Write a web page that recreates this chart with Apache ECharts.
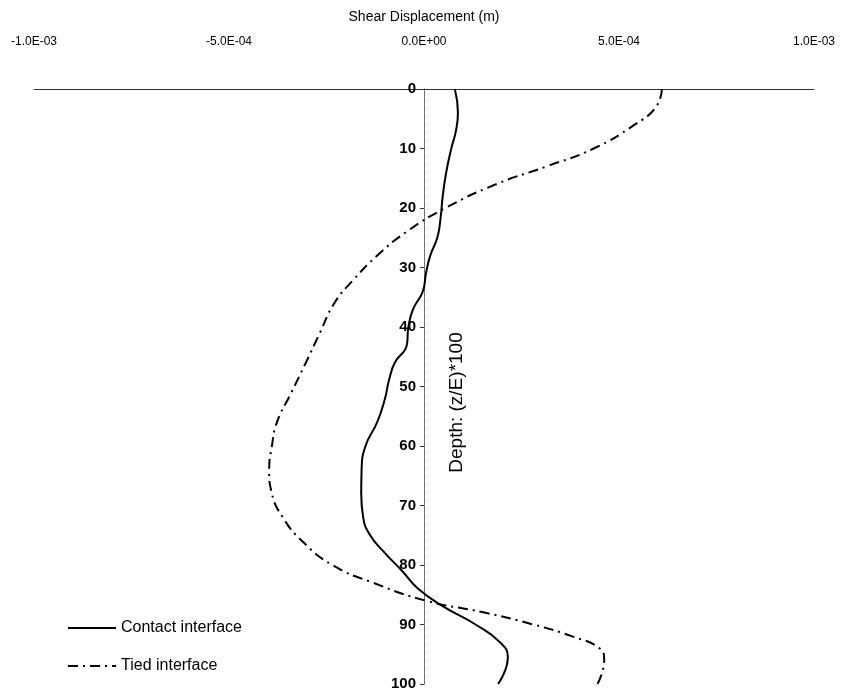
<!DOCTYPE html>
<html>
<head>
    <meta charset="utf-8">
    <title>Shear Displacement</title>
    <script src="https://cdn.jsdelivr.net/npm/echarts@6/dist/echarts.min.js"></script>
    <style>
        * { padding: 0; margin: 0; }
        body { background: #fff; }
    </style>
</head>
<body>
    <div id="main" style="width:845px;height:695px;"></div>
    <script type="text/javascript">
        // depth (z/E)*100 and shear displacement (m)
        var contactDepth = [0, 4, 7, 10, 14, 18, 22, 25, 28, 31, 34, 37, 40, 43, 46, 49, 52, 56, 60, 64, 68, 72, 75, 78, 81, 84, 87, 90, 93, 95.5, 100];
        var contactDisp = [7.9e-5, 8.7e-5, 8.2e-5, 7.0e-5, 5.7e-5, 4.8e-5, 4.2e-5, 3.4e-5, 1.6e-5, 5e-6, -3e-6, -2.8e-5, -4.0e-5, -4.4e-5, -7.5e-5, -9.0e-5, -1.0e-4, -1.2e-4, -1.5e-4, -1.6e-4, -1.61e-4, -1.56e-4, -1.38e-4, -1.0e-4, -5.6e-5, -1.5e-5, 5e-5, 1.32e-4, 1.95e-4, 2.15e-4, 1.9e-4];

        var tiedDepth = [0, 3, 6, 10, 13, 16, 20, 24, 28, 32, 36, 41, 46, 51, 56, 60, 64, 68, 72, 76, 80, 83, 86, 88, 90, 92, 94, 96, 100];
        var tiedDisp = [6.1e-4, 5.95e-4, 5.4e-4, 4.35e-4, 3.15e-4, 1.85e-4, 5.5e-5, -4.5e-5, -1.2e-4, -1.8e-4, -2.3e-4, -2.67e-4, -3.03e-4, -3.4e-4, -3.77e-4, -3.9e-4, -3.97e-4, -3.9e-4, -3.62e-4, -3.12e-4, -2.35e-4, -1.3e-4, 5e-6, 1.55e-4, 2.8e-4, 3.8e-4, 4.5e-4, 4.62e-4, 4.45e-4];

        var seriesNames = ['Contact interface', 'Tied interface'];

        function pairs(xs, ys) {
            var out = [];
            for (var i = 0; i < xs.length; i++) out.push([xs[i], ys[i]]);
            return out;
        }

        // -1.0E-03 style labels
        function sci(v) {
            if (Math.abs(v) < 1e-12) return '0.0E+00';
            var e = Math.floor(Math.log10(Math.abs(v)) + 1e-9);
            var m = v / Math.pow(10, e);
            var es = (e < 0 ? '-' : '+') + (Math.abs(e) < 10 ? '0' : '') + Math.abs(e);
            return m.toFixed(1) + 'E' + es;
        }

        var myChart = echarts.init(document.getElementById('main'));
        var font = 'Liberation Sans, Arial, sans-serif';

        var option = {
            backgroundColor: '#fff',
            animation: false,
            textStyle: { fontFamily: font, color: '#000' },
            grid: { left: 34, right: 31, top: 89, bottom: 11, containLabel: false, outerBoundsMode: 'none' },
            legend: {
                data: seriesNames,
                orient: 'vertical',
                left: 62,
                top: 615,
                itemWidth: 48,
                itemHeight: 10,
                itemGap: 22,
                itemStyle: { opacity: 0 },
                textStyle: { fontFamily: font, fontSize: 16, color: '#000' }
            },
            xAxis: {
                type: 'value',
                position: 'top',
                min: -1e-3,
                max: 1e-3,
                interval: 5e-4,
                name: 'Shear Displacement (m)',
                nameLocation: 'middle',
                nameGap: 65,
                nameTextStyle: { fontFamily: font, fontSize: 14, color: '#000' },
                axisLine: { onZero: false, lineStyle: { color: '#333', width: 1 } },
                axisTick: { show: false },
                splitLine: { show: false },
                axisLabel: {
                    margin: 41,
                    fontSize: 12,
                    color: '#000',
                    formatter: sci
                }
            },
            yAxis: {
                type: 'value',
                position: 'left',
                offset: -390,
                inverse: true,
                min: 0,
                max: 100,
                interval: 10,
                name: 'Depth: (z/E)*100',
                nameLocation: 'middle',
                nameRotate: 90,
                nameGap: -42,
                nameTextStyle: { fontFamily: font, fontSize: 19, color: '#000', padding: [0, 32, 0, 0] },
                axisLine: { show: true, onZero: false, lineStyle: { color: '#555', type: 'dotted', width: 1 } },
                axisTick: { show: true, length: 4, lineStyle: { color: '#333' } },
                splitLine: { show: false },
                axisLabel: { margin: 8, fontSize: 15, fontWeight: 'bold', color: '#000' }
            },
            series: [{
                    name: seriesNames[0],
                    type: 'line',
                    data: pairs(contactDisp, contactDepth),
                    showSymbol: false,
                    symbol: 'none',
                    smooth: true,
                    lineStyle: { color: '#000', width: 2 },
                    itemStyle: { color: '#000' }
                },
                {
                    name: seriesNames[1],
                    type: 'line',
                    data: pairs(tiedDisp, tiedDepth),
                    showSymbol: false,
                    symbol: 'none',
                    smooth: true,
                    lineStyle: { color: '#000', width: 2, type: [10, 5, 2, 5] },
                    itemStyle: { color: '#000' }
                }
            ]
        };
        myChart.setOption(option);
    </script>
</body>
</html>
